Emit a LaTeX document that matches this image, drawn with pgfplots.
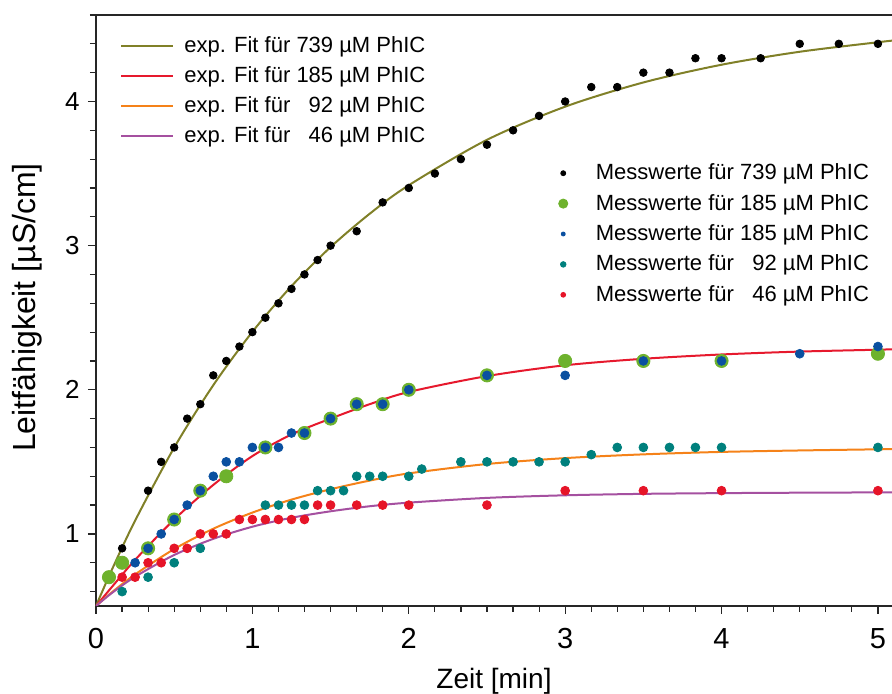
\documentclass[border=0pt]{standalone}
\usepackage{fontspec}
\setmainfont{Liberation Sans}
\usepackage{pgfplots}
\pgfplotsset{compat=1.18}

\definecolor{fitolive}{RGB}{128,128,40}
\definecolor{fitred}{RGB}{230,25,45}
\definecolor{fitorange}{RGB}{245,130,25}
\definecolor{fitpurple}{RGB}{165,80,160}
\definecolor{ptgreen}{RGB}{110,178,45}
\definecolor{ptblue}{RGB}{10,80,160}
\definecolor{ptteal}{RGB}{0,128,125}
\definecolor{ptred}{RGB}{230,20,40}

\pgfplotsset{
  base/.style={
    scale only axis, width=398pt, height=295.5pt,
    xmin=0, xmax=5.09, ymin=0.5, ymax=4.6,
  },
}

\begin{document}
\begin{tikzpicture}
% fits, axes, first legend
\begin{axis}[base,
  axis x line*=box, axis y line*=left,
  xtick pos=left, ytick pos=left,
  axis line style={line width=0.75pt, black!85},
  tick style={line width=0.6pt, black!85},
  tick align=outside, major tick length=4pt, minor tick length=3pt,
  xtick={0,1,2,3,4,5}, ytick={1,2,3,4},
  minor xtick={0,0.16667,...,5},
  minor ytick={0.6,0.8,...,4.61},
  /pgf/number format/assume math mode=true,
  xticklabel style={font=\fontsize{14.5}{16}\selectfont, anchor=base, inner sep=0pt, yshift=-17pt},
  yticklabel style={font=\fontsize{13}{15}\selectfont, anchor=east, inner sep=0pt, xshift=-4pt},
  xlabel={Zeit [min]},
  ylabel={Leitfähigkeit [µS/cm]},
  xlabel style={at={(axis description cs:0.5,0)}, anchor=base, yshift=-41.5pt, font=\fontsize{14}{16}\selectfont},
  ylabel style={at={(axis description cs:-0.0867,0.505)}, anchor=center, font=\fontsize{16}{18}\selectfont},
  legend cell align=left,
  legend image code/.code={\draw[#1] (0pt,0pt) -- (26pt,0pt);},
  legend style={draw=none, fill=none, inner sep=0pt, at={(axis description cs:0.0302,0.9735)}, anchor=north west,
    font=\fontsize{11}{13}\selectfont, row sep=0pt, column sep=5pt,
    nodes={inner sep=0pt, text height=10.6pt, text depth=4.4pt}},
]
\addplot[fitolive, line width=1pt, smooth] coordinates {(0,0.5) (0.1,0.748) (0.25,1.092) (0.5,1.599) (0.75,2.032) (1,2.402) (1.25,2.719) (1.5,2.990) (1.75,3.221) (2,3.419) (2.5,3.734) (3,3.964) (3.5,4.132) (4,4.255) (4.5,4.345) (5,4.411) (5.09,4.422)};
\addlegendentry{exp. Fit für 739 µM PhIC}
\addplot[fitred, line width=1pt, smooth] coordinates {(0,0.5) (0.1,0.63) (0.25,0.82) (0.5,1.10) (0.75,1.34) (1,1.54) (1.25,1.69) (1.5,1.80) (1.75,1.90) (2,1.985) (2.5,2.095) (3,2.17) (3.5,2.215) (4,2.245) (4.5,2.265) (5,2.278) (5.09,2.281)};
\addlegendentry{exp. Fit für 185 µM PhIC}
\addplot[fitorange, line width=1pt, smooth] coordinates {(0,0.5) (0.1,0.594) (0.25,0.719) (0.5,0.895) (0.75,1.036) (1,1.148) (1.25,1.238) (1.5,1.31) (1.75,1.37) (2,1.42) (2.5,1.485) (3,1.526) (3.5,1.552) (4,1.569) (4.5,1.579) (5,1.587) (5.09,1.588)};
\addlegendentry{exp. Fit für \hphantom{1}92 µM PhIC}
\addplot[fitpurple, line width=1pt, smooth] coordinates {(0,0.5) (0.1,0.589) (0.25,0.703) (0.5,0.854) (0.75,0.966) (1,1.05) (1.25,1.112) (1.5,1.157) (1.75,1.192) (2,1.217) (2.5,1.25) (3,1.268) (3.5,1.278) (4,1.283) (4.5,1.286) (5,1.288) (5.09,1.288)};
\addlegendentry{exp. Fit für \hphantom{1}46 µM PhIC}
\coordinate (sw) at (rel axis cs:0,0);
\coordinate (ne) at (rel axis cs:1,1);
\end{axis}
% measured points, second legend
\begin{axis}[base, hide axis,
  legend cell align=left,
  legend style={draw=none, fill=none, inner sep=0pt, at={(axis description cs:0.5807,0.7587)}, anchor=north west,
    font=\fontsize{11}{13}\selectfont, row sep=0pt, column sep=14pt,
    nodes={inner sep=0pt, text height=10.8pt, text depth=4.4pt}},
]
\addplot[only marks, mark=*, black, mark size=1.9pt, legend image post style={mark size=1.25pt}] coordinates {(0.167,0.9) (0.333,1.3) (0.417,1.5) (0.5,1.6) (0.583,1.8) (0.667,1.9) (0.75,2.1) (0.833,2.2) (0.917,2.3) (1.0,2.4) (1.083,2.5) (1.167,2.6) (1.25,2.7) (1.333,2.8) (1.417,2.9) (1.5,3.0) (1.667,3.1) (1.833,3.3) (2.0,3.4) (2.167,3.5) (2.333,3.6) (2.5,3.7) (2.667,3.8) (2.833,3.9) (3.0,4.0) (3.167,4.1) (3.333,4.1) (3.5,4.2) (3.667,4.2) (3.833,4.3) (4.0,4.3) (4.25,4.3) (4.5,4.4) (4.75,4.4) (5.0,4.4)};
\addlegendentry{Messwerte für 739 µM PhIC}
\addplot[only marks, mark=*, ptgreen, mark size=3.3pt, legend image post style={mark size=2.3pt}] coordinates {(0.083,0.7) (0.167,0.8) (0.333,0.9) (0.5,1.1) (0.667,1.3) (0.833,1.4) (1.083,1.6) (1.333,1.7) (1.5,1.8) (1.667,1.9) (1.833,1.9) (2.0,2.0) (2.5,2.1) (3.0,2.2) (3.5,2.2) (4.0,2.2) (5.0,2.25)};
\addlegendentry{Messwerte für 185 µM PhIC}
\addplot[only marks, mark=*, ptblue, mark size=2.2pt, legend image post style={mark size=1pt}] coordinates {(0.25,0.8) (0.333,0.9) (0.417,1.0) (0.5,1.1) (0.583,1.2) (0.667,1.3) (0.75,1.4) (0.833,1.5) (0.917,1.5) (1.0,1.6) (1.083,1.6) (1.167,1.6) (1.25,1.7) (1.333,1.7) (1.5,1.8) (1.667,1.9) (1.833,1.9) (2.0,2.0) (2.5,2.1) (3.0,2.1) (3.5,2.2) (4.0,2.2) (4.5,2.25) (5.0,2.3)};
\addlegendentry{Messwerte für 185 µM PhIC}
\addplot[only marks, mark=*, ptteal, mark size=2.2pt, legend image post style={mark size=1.4pt}] coordinates {(0.167,0.6) (0.333,0.7) (0.5,0.8) (0.667,0.9) (1.083,1.2) (1.167,1.2) (1.25,1.2) (1.333,1.2) (1.417,1.3) (1.5,1.3) (1.583,1.3) (1.667,1.4) (1.75,1.4) (1.833,1.4) (2.0,1.4) (2.083,1.45) (2.333,1.5) (2.5,1.5) (2.667,1.5) (2.833,1.5) (3.0,1.5) (3.167,1.55) (3.333,1.6) (3.5,1.6) (3.667,1.6) (3.833,1.6) (4.0,1.6) (5.0,1.6)};
\addlegendentry{Messwerte für \hphantom{1}92 µM PhIC}
\addplot[only marks, mark=*, ptred, mark size=2.2pt, legend image post style={mark size=1.2pt}] coordinates {(0.167,0.7) (0.25,0.7) (0.333,0.8) (0.417,0.8) (0.5,0.9) (0.583,0.9) (0.667,1.0) (0.75,1.0) (0.833,1.0) (0.917,1.1) (1.0,1.1) (1.083,1.1) (1.167,1.1) (1.25,1.1) (1.333,1.1) (1.417,1.2) (1.5,1.2) (1.667,1.2) (1.833,1.2) (2.0,1.2) (2.5,1.2) (3.0,1.3) (3.5,1.3) (4.0,1.3) (5.0,1.3)};
\addlegendentry{Messwerte für \hphantom{1}46 µM PhIC}
\end{axis}
\pgfresetboundingbox
\path[use as bounding box] ([xshift=-48pt,yshift=-44pt]sw) rectangle ([yshift=7.5pt]ne);
\end{tikzpicture}
\end{document}
